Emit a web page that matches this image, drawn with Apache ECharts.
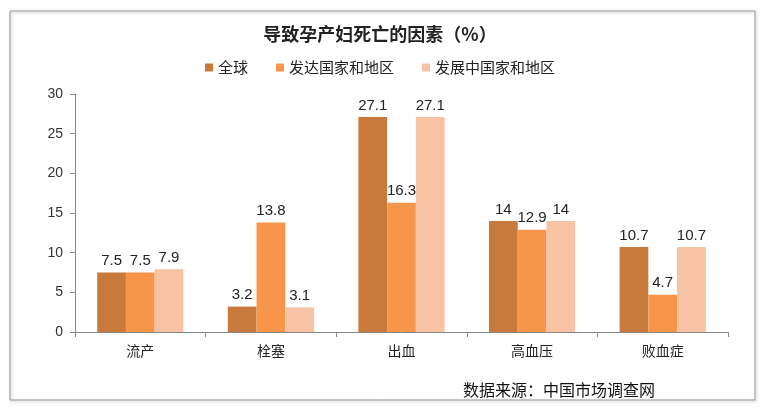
<!DOCTYPE html>
<html><head><meta charset="utf-8">
<script src="https://cdn.jsdelivr.net/npm/echarts@6/dist/echarts.min.js"></script>
<style>html,body{margin:0;padding:0;background:#fff}#c{width:760px;height:412px}</style>
</head><body><div id="c"></div>
<script>
var categories = ['流产', '栓塞', '出血', '高血压', '败血症'];
var seriesNames = ['全球', '发达国家和地区', '发展中国家和地区'];
var globalVals = [7.5, 3.2, 27.1, 14, 10.7];
var developedVals = [7.5, 13.8, 16.3, 12.9, 4.7];
var developingVals = [7.9, 3.1, 27.1, 14, 10.7];
var yTicks = [0, 5, 10, 15, 20, 25, 30];
var colors = ['#C87A3C', '#F7964A', '#F8C2A4'];
var font = '"Noto Sans CJK SC", "Microsoft YaHei", sans-serif';

var chart = echarts.init(document.getElementById('c'));
function mk(name, data, i) {
  return {
    name: name, type: 'bar', data: data, barGap: '0%', barCategoryGap: '34%',
    itemStyle: {color: colors[i]},
    label: {show: true, position: 'top', distance: 4, color: '#222', fontSize: 15, fontFamily: 'Arial, "Liberation Sans", sans-serif'}
  };
}
chart.setOption({
  animation: false,
  backgroundColor: '#fff',
  title: {text: '导致孕产妇死亡的因素（%）', left: 'center', top: 20,
    textStyle: {fontSize: 18, fontWeight: 'bold', color: '#222', fontFamily: font}},
  legend: {top: 55, left: 'center', itemWidth: 8, itemHeight: 8, itemGap: 28, icon: 'rect',
    textStyle: {fontSize: 15, color: '#222', fontFamily: font}, data: seriesNames},
  grid: {left: 75, right: 32, top: 94, bottom: 80, containLabel: false},
  xAxis: {type: 'category', data: categories,
    axisLine: {lineStyle: {color: '#888'}}, axisTick: {show: true, lineStyle: {color: '#888'}},
    axisLabel: {fontSize: 14, color: '#222', margin: 12, fontFamily: font}},
  yAxis: {type: 'value', min: yTicks[0], max: yTicks[yTicks.length - 1], interval: 5,
    axisLine: {show: true, lineStyle: {color: '#888'}}, axisTick: {show: true, lineStyle: {color: '#888'}},
    splitLine: {show: false},
    axisLabel: {fontSize: 14, color: '#333', margin: 12, fontFamily: 'Arial, "Liberation Sans", sans-serif'}},
  graphic: [
    {type: 'rect', shape: {x: 10, y: 11, width: 745, height: 389}, silent: true, z: -10,
      style: {fill: 'none', stroke: '#999', lineWidth: 1, shadowBlur: 3, shadowColor: 'rgba(0,0,0,0.3)', shadowOffsetX: 1, shadowOffsetY: 1}},
    {type: 'text', left: 463, top: 382, silent: true,
      style: {text: '数据来源：中国市场调查网', fontSize: 16, fill: '#111', fontFamily: font}}
  ],
  series: [mk(seriesNames[0], globalVals, 0), mk(seriesNames[1], developedVals, 1), mk(seriesNames[2], developingVals, 2)]
});
</script></body></html>
